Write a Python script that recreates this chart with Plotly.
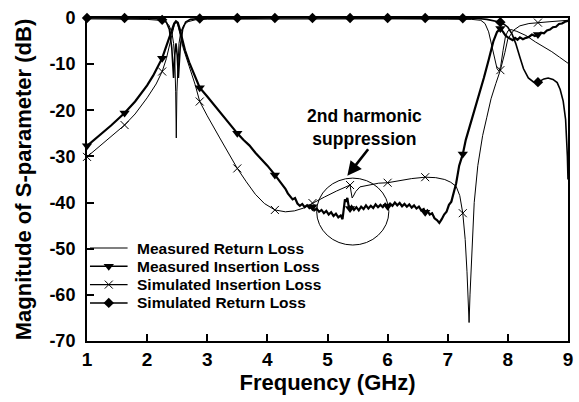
import numpy as np
import plotly.graph_objects as go

# ---------------- data ----------------
MARKER_F = [1.0, 1.625, 2.25, 2.875, 3.5, 4.125, 4.75, 5.375, 6.0, 6.625, 7.25, 7.875, 8.5]

mrl_f = [1.0, 1.5, 2.0, 2.2, 2.3, 2.36, 2.41, 2.44, 2.46, 2.475, 2.485, 2.495, 2.51, 2.53, 2.56,
         2.61, 2.68, 2.8, 3.0, 4.0, 5.0, 6.0, 7.0, 7.4, 7.55, 7.62, 7.68, 7.73, 7.78, 7.82, 7.85,
         7.88, 7.92, 7.96, 8.0, 8.05, 8.15, 8.3, 8.46, 8.6, 8.73, 8.86, 9.0]
mrl_db = [-0.2, -0.2, -0.3, -0.5, -0.8, -1.5, -3.0, -5.5, -9.0, -16.0, -26.0, -16.0, -9.0, -5.5, -3.0,
          -1.5, -0.8, -0.4, -0.25, -0.2, -0.2, -0.2, -0.25, -0.3, -0.5, -1.2, -3.0, -6.0, -9.0, -11.0, -11.5,
          -10.5, -7.0, -4.0, -2.8, -2.5, -2.9, -3.8, -5.2, -6.2, -7.3, -8.5, -9.8]

mil_f = [1.0, 1.2, 1.4, 1.625, 1.8, 2.0, 2.1, 2.25, 2.33, 2.38, 2.42, 2.45, 2.48, 2.51, 2.54, 2.58,
         2.63, 2.7, 2.8, 2.875, 3.0, 3.2, 3.35, 3.5, 3.6, 3.7, 3.8, 3.9, 4.0, 4.125, 4.2, 4.25, 4.3,
         4.34, 4.38, 4.42, 4.46, 4.5, 4.54, 4.58, 4.62, 4.66, 4.7, 4.75, 4.78, 4.82, 4.86, 4.9, 4.94,
         4.98, 5.02, 5.06, 5.1, 5.14, 5.18, 5.22, 5.25, 5.27, 5.29, 5.31, 5.33, 5.35, 5.375, 5.4, 5.44,
         5.48, 5.52, 5.56, 5.6, 5.64, 5.68, 5.72, 5.76, 5.8, 5.84, 5.88, 5.92, 5.96, 6.0, 6.04, 6.08,
         6.12, 6.16, 6.2, 6.24, 6.28, 6.32, 6.36, 6.4, 6.44, 6.48, 6.52, 6.56, 6.6, 6.625, 6.66, 6.7,
         6.74, 6.78, 6.82, 6.86, 6.9, 6.94, 6.98, 7.02, 7.06, 7.1, 7.14, 7.19, 7.25, 7.3, 7.4, 7.52,
         7.6, 7.68, 7.76, 7.82, 7.875, 7.92, 7.96, 8.0, 8.04, 8.08, 8.12, 8.16, 8.2, 8.25, 8.3, 8.35,
         8.4, 8.45, 8.5, 8.55, 8.6, 8.65, 8.7, 8.75, 8.8, 8.85, 8.9, 8.95, 9.0]
mil_db = [-27.7, -25.6, -23.3, -20.6, -18.1, -14.6, -12.5, -8.7, -5.8, -3.8, -2.2, -1.2, -0.7, -1.0, -2.3, -4.5,
          -7.0, -9.6, -12.7, -15.1, -17.0, -20.3, -22.6, -25.0, -26.4, -27.6, -29.2, -30.6, -32.0, -34.0, -35.3, -36.4, -37.0,
          -38.0, -38.6, -39.3, -39.0, -40.2, -40.7, -40.3, -41.0, -40.6, -41.2, -40.9, -41.7, -41.3, -42.0, -41.6, -42.3,
          -41.8, -42.6, -42.1, -42.9, -42.4, -43.2, -42.8, -43.6, -41.5, -39.3, -39.8, -39.0, -40.6, -41.3, -40.8, -41.6,
          -41.0, -41.7, -40.9, -41.4, -40.6, -41.3, -40.7, -41.2, -40.4, -41.0, -40.5, -41.0, -40.3, -40.8, -40.2, -40.7,
          -40.0, -40.6, -40.1, -40.8, -40.3, -40.9, -40.4, -41.1, -40.6, -41.3, -40.9, -41.7, -41.4, -42.1, -41.7, -42.6,
          -42.3, -43.4, -43.8, -44.4, -43.6, -42.6, -42.0, -40.5, -39.8, -38.0, -35.8, -32.0, -29.5, -26.4, -22.0, -17.0,
          -13.0, -9.1, -5.0, -3.0, -2.3, -3.0, -3.8, -4.2, -4.6, -4.8, -4.3, -4.7, -4.2, -4.6, -4.3, -4.1,
          -3.6, -3.9, -3.6, -3.2, -3.3, -2.7, -2.5, -2.0, -1.9, -1.3, -1.2, -0.8, -0.6]

sil_f = [1.0, 1.2, 1.4, 1.625, 1.8, 2.0, 2.15, 2.25, 2.32, 2.38, 2.42, 2.45, 2.48, 2.51, 2.55, 2.6,
         2.7, 2.8, 2.875, 3.0, 3.2, 3.35, 3.5, 3.65, 3.8, 3.95, 4.125, 4.3, 4.45, 4.6, 4.75, 4.95,
         5.15, 5.3, 5.375, 5.39, 5.41, 5.43, 5.47, 5.54, 5.7, 5.85, 6.0, 6.2, 6.4, 6.625, 6.8, 6.95,
         7.05, 7.14, 7.2, 7.25, 7.29, 7.32, 7.34, 7.355, 7.37, 7.4, 7.44, 7.5, 7.58, 7.65, 7.72, 7.8,
         7.875, 7.95, 8.0, 8.1, 8.2, 8.35, 8.5, 8.7, 9.0]
sil_db = [-30.1, -27.9, -25.8, -23.2, -20.8, -17.3, -14.3, -11.6, -8.8, -5.6, -3.2, -1.6, -0.8, -1.5, -3.6, -6.5,
          -10.5, -14.5, -18.1, -21.2, -25.8, -29.2, -32.6, -35.5, -38.2, -40.2, -41.6, -42.0, -41.8, -41.2, -40.1, -38.8,
          -37.5, -36.6, -36.2, -37.5, -39.0, -38.6, -37.6, -36.6, -36.1, -35.8, -35.7, -35.2, -34.8, -34.5, -34.6, -35.0,
          -35.6, -36.5, -38.5, -42.3, -48.0, -55.0, -62.0, -66.0, -60.0, -50.0, -40.0, -32.0, -25.5, -21.5, -17.5, -14.2,
          -11.3, -7.5, -4.5, -2.6, -1.7, -1.2, -1.0, -0.8, -0.5]

srl_f = [1.0, 1.625, 2.0, 2.2, 2.25, 2.32, 2.37, 2.41, 2.44, 2.46, 2.48, 2.5, 2.52, 2.55, 2.59, 2.64,
         2.72, 2.875, 3.5, 4.125, 4.75, 5.375, 6.0, 6.625, 7.25, 7.5, 7.65, 7.75, 7.875, 7.95, 8.0, 8.07,
         8.13, 8.2, 8.26, 8.34, 8.42, 8.5, 8.6, 8.67, 8.75, 8.82, 8.87, 8.92, 8.96, 8.99, 9.0]
srl_db = [0.0, 0.0, -0.05, -0.2, -0.4, -0.9, -2.5, -6.5, -13.0, -8.0, -5.5, -8.0, -13.0, -6.5, -2.5, -0.9,
          -0.3, -0.1, 0.0, 0.0, 0.0, 0.0, 0.0, 0.0, -0.05, -0.1, -0.3, -0.5, -0.9, -1.5, -2.0, -3.5,
          -5.5, -8.5, -11.0, -13.0, -13.8, -13.9, -13.2, -13.0, -13.3, -14.0, -15.5, -18.0, -22.0, -30.0, -35.0]

NAMES = ["Measured Return Loss", "Measured Insertion Loss", "Simulated Insertion Loss", "Simulated Return Loss"]
X_TICKS = [1, 2, 3, 4, 5, 6, 7, 8, 9]
Y_TICKS = [0, -10, -20, -30, -40, -50, -60, -70]

FONT = "Liberation Sans, Arial, sans-serif"

# plot area in pixels
L, R, T, B = 87, 573, 18, 341
W, H = 579, 402

styles = [
    dict(width=1.0, marker=None, leg_width=1.2),
    dict(width=2.2, marker=dict(symbol="triangle-down", size=9, color="black", line=dict(width=0)), leg_width=1.5),
    dict(width=1.0, marker=dict(symbol="x-thin", size=8, color="black", line=dict(color="black", width=1)), leg_width=1.2),
    dict(width=1.6, marker=dict(symbol="diamond", size=8, color="black", line=dict(width=0)), leg_width=1.5),
]
data = [(mrl_f, mrl_db), (mil_f, mil_db), (sil_f, sil_db), (srl_f, srl_db)]

fig = go.Figure()
for name, (f, db), st in zip(NAMES, data, styles):
    f = np.array(f)
    db = np.array(db)
    fig.add_trace(go.Scatter(x=f, y=db, mode="lines", name=name,
                             line=dict(color="black", width=st["width"]),
                             showlegend=False, hoverinfo="skip"))
    if st["marker"] is not None:
        sel = np.isin(np.round(f, 3), np.round(MARKER_F, 3))
        fig.add_trace(go.Scatter(x=f[sel], y=db[sel], mode="markers", marker=st["marker"],
                                 showlegend=False, hoverinfo="skip", cliponaxis=False))

# ---- legend drawn on a hidden pixel-unit overlay axis ----
LEG_X0, LEG_X1, LEG_TEXT_X = 90, 128, 135
LEG_Y0, LEG_DY = 248, 18.3
for i, (name, st) in enumerate(zip(NAMES, styles)):
    yy = LEG_Y0 + i * LEG_DY
    fig.add_trace(go.Scatter(x=[LEG_X0, LEG_X1], y=[yy, yy], mode="lines", xaxis="x2", yaxis="y2",
                             line=dict(color="black", width=st["leg_width"]),
                             showlegend=False, hoverinfo="skip"))
    if st["marker"] is not None:
        fig.add_trace(go.Scatter(x=[(LEG_X0 + LEG_X1) / 2], y=[yy], mode="markers", xaxis="x2", yaxis="y2",
                                 marker=st["marker"], showlegend=False, hoverinfo="skip"))
    fig.add_annotation(x=LEG_TEXT_X, y=yy, xref="x2", yref="y2", text=name, showarrow=False,
                       xanchor="left", yanchor="middle",
                       font=dict(family=FONT, size=15.5, color="black", weight="bold"))

# circle around the harmonic region
fig.add_shape(type="circle", xref="x", yref="y", x0=4.82, x1=6.02, y0=-49.2, y1=-34.7,
              line=dict(color="black", width=1))

# arrow and its label
fig.add_annotation(x=5.33, y=-34.2, xref="x", yref="y", ax=22, ay=-28, text="",
                   showarrow=True, arrowhead=2, arrowsize=1.1, arrowwidth=2.6, arrowcolor="black")
fig.add_annotation(x=5.62, y=-23.8, xref="x", yref="y", text="2nd harmonic<br>suppression",
                   showarrow=False,
                   font=dict(family=FONT, size=17.5, color="black", weight="bold"))

axis_common = dict(showline=True, linecolor="black", linewidth=2, mirror=True,
                   ticks="inside", ticklen=7, tickwidth=1.5, tickcolor="black",
                   showgrid=False, zeroline=False)

fig.update_xaxes(range=[1, 9], tickvals=X_TICKS, ticktext=[str(v) for v in X_TICKS],
                 tickfont=dict(family=FONT, size=19, color="black", weight="bold"),
                 title=dict(text="Frequency (GHz)", standoff=5,
                            font=dict(family=FONT, size=22, color="black", weight="bold")),
                 **axis_common)
fig.update_yaxes(range=[-70, 0], tickvals=Y_TICKS, ticktext=[str(v) for v in Y_TICKS],
                 ticklabelstandoff=6,
                 tickfont=dict(family=FONT, size=18, color="black", weight="bold"),
                 title=dict(text="Magnitude of S-parameter (dB)", standoff=12,
                            font=dict(family=FONT, size=22, color="black", weight="bold")),
                 **axis_common)

fig.update_layout(
    width=W, height=H,
    margin=dict(l=L, r=W - R, t=T, b=H - B),
    paper_bgcolor="white", plot_bgcolor="white",
    showlegend=False,
    xaxis2=dict(overlaying="x", anchor="y2", range=[L, R], visible=False, fixedrange=True),
    yaxis2=dict(overlaying="y", anchor="x2", range=[B, T], visible=False, fixedrange=True),
)

fig.write_html("out.html")
